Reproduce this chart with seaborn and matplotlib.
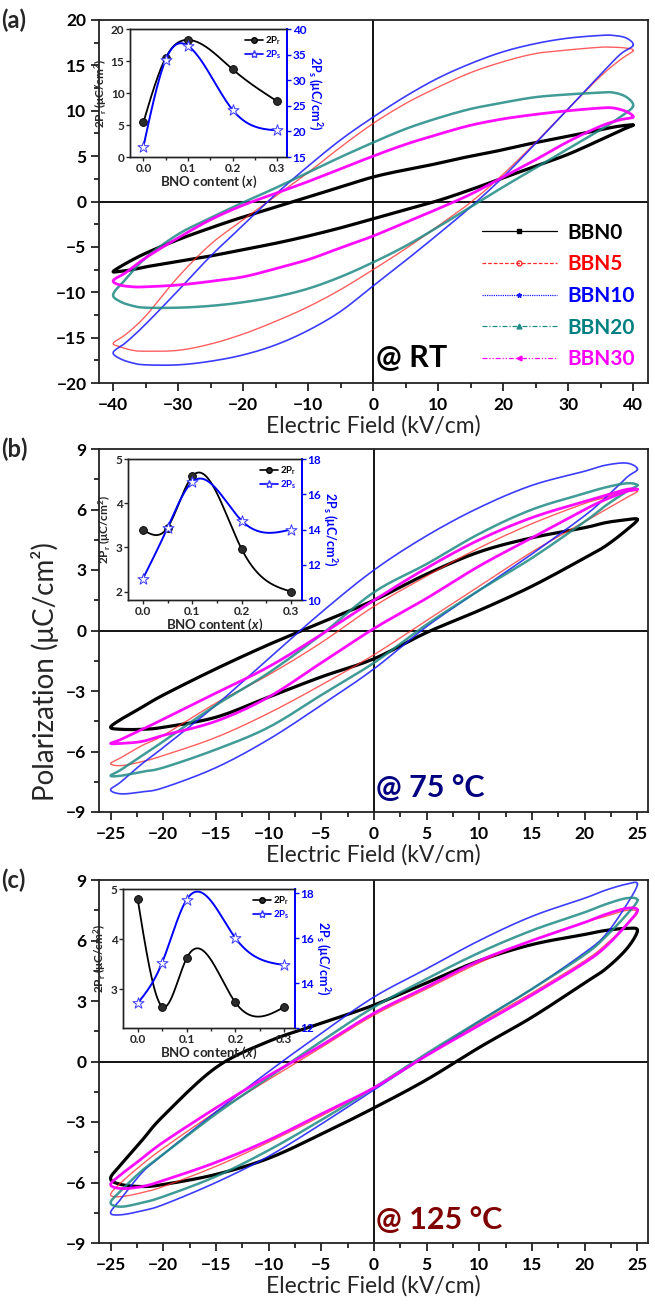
import numpy as np
import matplotlib
matplotlib.use("Agg")
import matplotlib.pyplot as plt
import seaborn as sns
from matplotlib.ticker import MultipleLocator, FormatStrFormatter
from matplotlib.lines import Line2D

sns.set_theme(style="ticks")
plt.rcParams['font.family'] = ['Lato', 'DejaVu Sans']
plt.rcParams['mathtext.fontset'] = 'custom'
plt.rcParams['mathtext.rm'] = 'Lato:bold'
plt.rcParams['mathtext.bf'] = 'Lato:bold'
plt.rcParams['mathtext.it'] = 'Lato:italic:bold'

# ---------------- data ----------------
samples = ["BBN0", "BBN5", "BBN10", "BBN20", "BBN30"]
colors = ["#000000", "#ff2a2a", "#1a1aff", "#1f8a84", "#ff00ff"]
text_colors = ["#000000", "#ff0000", "#0000ff", "#008080", "#ff00ff"]

# (a) room temperature, +/-40 kV/cm
E_up_a = [40, 39, 37, 35, 30, 25, 20, 15, 10, 5, 0, -5, -10, -15, -20, -25, -30, -35, -38, -40]
E_dn_a = [-40, -39, -37, -35, -30, -25, -20, -15, -10, -5, 0, 5, 10, 15, 20, 25, 30, 35, 38, 40]
P_up_a = {
    "BBN0":  [8.4, 8.4, 8.2, 7.9, 7.2, 6.5, 5.7, 5.0, 4.2, 3.5, 2.7, 1.6, 0.5, -0.6, -1.7, -2.9, -4.2, -5.7, -6.8, -7.7],
    "BBN5":  [16.6, 16.9, 17.0, 17.0, 16.7, 16.3, 15.4, 14.2, 12.6, 10.8, 8.6, 6.0, 3.2, 0.6, -2.0, -4.7, -8.3, -12.6, -14.6, -15.6],
    "BBN10": [17.2, 18.0, 18.3, 18.3, 18.0, 17.4, 16.5, 15.2, 13.6, 11.6, 9.3, 6.8, 3.9, 0.8, -2.6, -6.0, -9.8, -13.5, -15.5, -16.6],
    "BBN20": [10.5, 11.5, 12.0, 12.0, 11.8, 11.5, 10.9, 10.2, 9.2, 8.0, 6.5, 4.9, 3.2, 1.5, -0.1, -1.8, -3.6, -6.2, -8.5, -10.2],
    "BBN30": [9.3, 9.9, 10.3, 10.3, 10.0, 9.6, 9.1, 8.4, 7.4, 6.3, 5.0, 3.6, 2.2, 0.9, -0.4, -2.0, -4.0, -6.2, -7.8, -8.7],
}
P_dn_a = {
    "BBN0":  [-7.7, -7.7, -7.5, -7.2, -6.6, -6.0, -5.3, -4.6, -3.8, -2.9, -1.9, -0.9, 0.1, 1.3, 2.6, 3.9, 5.2, 6.8, 7.8, 8.4],
    "BBN5":  [-15.6, -16.0, -16.4, -16.5, -16.4, -15.7, -14.6, -13.2, -11.6, -9.7, -7.5, -5.2, -2.7, -0.1, 3.0, 6.5, 10.2, 13.8, 15.6, 16.6],
    "BBN10": [-16.6, -17.3, -17.8, -18.0, -18.0, -17.6, -16.9, -15.8, -14.2, -12.1, -9.3, -6.5, -3.6, -0.6, 2.7, 6.4, 10.2, 14.0, 16.2, 17.2],
    "BBN20": [-10.2, -11.0, -11.5, -11.7, -11.7, -11.5, -11.1, -10.5, -9.6, -8.3, -6.7, -4.9, -2.8, -0.6, 1.6, 3.7, 5.8, 7.9, 9.3, 10.5],
    "BBN30": [-8.7, -9.2, -9.4, -9.4, -9.2, -8.8, -8.3, -7.4, -6.4, -5.1, -3.8, -2.3, -0.8, 0.8, 2.7, 4.6, 6.6, 8.3, 9.0, 9.3],
}

# (b) 75 C and (c) 125 C, +/-25 kV/cm
E_up_bc = [25, 24, 22, 20, 15, 10, 5, 0, -5, -10, -15, -20, -22, -24, -25]
E_dn_bc = [-25, -24, -22, -20, -15, -10, -5, 0, 5, 10, 15, 20, 22, 24, 25]
P_up_b = {
    "BBN0":  [5.5, 5.5, 5.35, 5.1, 4.6, 3.9, 2.8, 1.5, 0.4, -0.7, -1.9, -3.2, -3.8, -4.4, -4.8],
    "BBN5":  [6.9, 6.9, 6.6, 6.3, 5.3, 4.1, 2.7, 1.2, -0.6, -2.2, -3.6, -5.2, -5.7, -6.3, -6.6],
    "BBN10": [8.0, 8.3, 8.2, 7.9, 7.2, 6.1, 4.7, 3.0, 0.9, -1.4, -3.7, -5.8, -6.6, -7.5, -7.9],
    "BBN20": [7.2, 7.3, 7.1, 6.8, 6.0, 4.8, 3.3, 1.9, -0.2, -2.1, -3.7, -5.5, -6.2, -6.9, -7.2],
    "BBN30": [7.0, 7.0, 6.7, 6.4, 5.6, 4.5, 3.1, 1.5, -0.2, -1.8, -3.1, -4.4, -4.9, -5.4, -5.6],
}
P_dn_b = {
    "BBN0":  [-4.8, -4.9, -4.9, -4.8, -4.3, -3.3, -2.3, -1.4, -0.1, 1.0, 2.2, 3.6, 4.2, 5.0, 5.5],
    "BBN5":  [-6.6, -6.7, -6.5, -6.2, -5.3, -4.1, -2.7, -1.2, 0.5, 2.2, 3.9, 5.4, 6.0, 6.6, 6.9],
    "BBN10": [-7.9, -8.1, -8.0, -7.8, -6.8, -5.4, -3.7, -1.9, 0.2, 2.0, 3.8, 5.7, 6.6, 7.6, 8.0],
    "BBN20": [-7.2, -7.2, -7.0, -6.8, -5.9, -4.8, -3.2, -1.6, 0.3, 2.0, 3.6, 5.4, 6.2, 6.9, 7.2],
    "BBN30": [-5.6, -5.6, -5.5, -5.2, -4.5, -3.3, -1.6, 0.1, 1.6, 3.2, 4.6, 6.0, 6.5, 6.9, 7.0],
}
P_up_c = {
    "BBN0":  [6.5, 6.6, 6.5, 6.3, 5.8, 5.0, 3.9, 2.8, 1.9, 1.0, -0.3, -2.7, -3.9, -5.1, -5.8],
    "BBN5":  [7.4, 7.5, 7.2, 6.9, 6.0, 4.9, 3.6, 2.3, 0.7, -0.9, -2.5, -4.3, -5.1, -6.0, -6.6],
    "BBN10": [8.8, 8.8, 8.5, 8.1, 7.2, 6.0, 4.6, 3.2, 1.4, -0.5, -2.5, -4.6, -5.5, -6.8, -7.5],
    "BBN20": [8.0, 8.1, 7.8, 7.4, 6.5, 5.4, 4.1, 2.7, 1.0, -0.8, -2.6, -4.6, -5.4, -6.4, -7.0],
    "BBN30": [7.5, 7.6, 7.3, 6.9, 6.0, 5.0, 3.7, 2.4, 0.8, -0.7, -2.3, -4.0, -4.8, -5.6, -6.1],
}
P_dn_c = {
    "BBN0":  [-5.8, -6.1, -6.2, -6.1, -5.6, -4.8, -3.6, -2.3, -0.9, 0.7, 2.2, 3.9, 4.6, 5.6, 6.5],
    "BBN5":  [-6.6, -6.7, -6.5, -6.2, -5.2, -4.0, -2.7, -1.3, 0.3, 1.9, 3.4, 5.0, 5.8, 6.8, 7.4],
    "BBN10": [-7.5, -7.6, -7.4, -7.1, -6.0, -4.7, -3.1, -1.4, 0.3, 2.0, 3.6, 5.4, 6.3, 7.8, 8.8],
    "BBN20": [-7.0, -7.2, -7.0, -6.7, -5.7, -4.4, -2.9, -1.3, 0.4, 2.0, 3.6, 5.3, 6.2, 7.3, 8.0],
    "BBN30": [-6.1, -6.3, -6.2, -5.9, -5.0, -3.9, -2.6, -1.3, 0.3, 1.8, 3.3, 4.9, 5.7, 6.8, 7.5],
}

# insets: remanent (2Pr) and saturation (2Ps) polarization vs BNO content
x_bno = [0.0, 0.05, 0.1, 0.2, 0.3]
Pr2_a = [5.4, 15.5, 18.3, 13.7, 8.7]
Ps2_a = [17.0, 34.0, 36.7, 24.2, 20.2]
Pr2_b = [3.40, 3.45, 4.61, 2.96, 2.00]
Ps2_b = [11.2, 14.1, 16.7, 14.5, 14.0]
Pr2_c = [4.80, 2.65, 3.61, 2.73, 2.64]
Ps2_c = [13.1, 14.9, 17.7, 16.0, 14.8]


# ---------------- helpers ----------------
def closed_curve(x, y, n=12):
    """Catmull-Rom rendering of a closed polyline through the given points."""
    P = np.column_stack([x, y]).astype(float)
    N = len(P)
    t = np.linspace(0, 1, n, endpoint=False)[:, None]
    segs = []
    for i in range(N):
        p0, p1, p2, p3 = P[i - 1], P[i], P[(i + 1) % N], P[(i + 2) % N]
        segs.append(0.5 * (2 * p1 + (-p0 + p2) * t
                           + (2 * p0 - 5 * p1 + 4 * p2 - p3) * t ** 2
                           + (-p0 + 3 * p1 - 3 * p2 + p3) * t ** 3))
    out = np.vstack(segs + [P[:1]])
    return out[:, 0], out[:, 1]


def spline_line(x, y, n=200):
    """Natural cubic spline rendering through the given points."""
    x = np.asarray(x, float)
    y = np.asarray(y, float)
    k = len(x)
    h = np.diff(x)
    A = np.zeros((k, k))
    b = np.zeros(k)
    A[0, 0] = A[-1, -1] = 1
    for i in range(1, k - 1):
        A[i, i - 1] = h[i - 1]
        A[i, i] = 2 * (h[i - 1] + h[i])
        A[i, i + 1] = h[i]
        b[i] = 3 * ((y[i + 1] - y[i]) / h[i] - (y[i] - y[i - 1]) / h[i - 1])
    c = np.linalg.solve(A, b)
    bb = (y[1:] - y[:-1]) / h - h * (2 * c[:-1] + c[1:]) / 3
    d = (c[1:] - c[:-1]) / (3 * h)
    xs = np.linspace(x[0], x[-1], n)
    idx = np.clip(np.searchsorted(x, xs) - 1, 0, k - 2)
    dx = xs - x[idx]
    ys = y[idx] + bb[idx] * dx + c[idx] * dx ** 2 + d[idx] * dx ** 3
    return xs, ys


line_w = [2.3, 1.0, 1.2, 1.8, 2.0]
line_a = [1.0, 0.75, 0.85, 0.85, 0.95]


def draw_loops(ax, E_up, E_dn, P_up, P_dn):
    for s, col, w, a in zip(samples, colors, line_w, line_a):
        lx = list(E_up) + list(E_dn[1:-1])
        ly = list(P_up[s]) + list(P_dn[s][1:-1])
        cx, cy = closed_curve(lx, ly)
        sns.lineplot(x=cx, y=cy, sort=False, estimator=None, ax=ax,
                     color=col, lw=w, alpha=a, legend=False)


def style_main(ax, xlim, ylim, xmaj, ymaj):
    ax.set_xlim(*xlim)
    ax.set_ylim(*ylim)
    ax.axhline(0, color="black", lw=1.3, zorder=1)
    ax.axvline(0, color="black", lw=1.3, zorder=1)
    ax.xaxis.set_major_locator(MultipleLocator(xmaj))
    ax.xaxis.set_minor_locator(MultipleLocator(xmaj / 2))
    ax.yaxis.set_major_locator(MultipleLocator(ymaj))
    ax.yaxis.set_minor_locator(MultipleLocator(ymaj / 2))
    ax.tick_params(which="both", direction="out", top=False, right=False,
                   width=1.3, colors="#222222")
    ax.tick_params(which="major", length=6, labelsize=12.5)
    ax.tick_params(axis="x", which="major", pad=4)
    ax.tick_params(axis="y", which="major", pad=3)
    ax.tick_params(which="minor", length=3.5)
    for lab in ax.get_xticklabels() + ax.get_yticklabels():
        lab.set_fontweight("bold")
        lab.set_color("black")
    for sp in ax.spines.values():
        sp.set_linewidth(1.3)
        sp.set_color("#222222")
    ax.set_xlabel("Electric Field (kV/cm)", fontsize=16.5, labelpad=1.5)
    ax.set_ylabel("")


def draw_inset(fig, rect, pr, ps, lylim, rylim, lticks, rticks):
    ax = fig.add_axes(rect)
    xs, ys = spline_line(x_bno, pr)
    sns.lineplot(x=xs, y=ys, ax=ax, color="black", lw=1.3, legend=False)
    sns.scatterplot(x=x_bno, y=pr, ax=ax, marker="o", s=32, color="#2b2b2b",
                    edgecolor="black", linewidth=0.6, zorder=5, legend=False)
    ax.set_xlim(-0.03, 0.322)
    ax.set_ylim(*lylim)
    ax.set_yticks(lticks)
    ax.xaxis.set_major_locator(MultipleLocator(0.1))
    ax.xaxis.set_minor_locator(MultipleLocator(0.05))
    ax.tick_params(which="both", direction="out", top=False, right=False,
                   width=1.0, labelsize=8.5, pad=1)
    ax.tick_params(which="major", length=3)
    ax.tick_params(which="minor", length=2)
    ax.xaxis.set_major_formatter(FormatStrFormatter("%.1f"))
    for lab in ax.get_xticklabels() + ax.get_yticklabels():
        lab.set_fontweight("bold")
    ax.set_xlabel(r"BNO content ($x$)", fontsize=9.5, fontweight="bold", labelpad=0)
    ax.set_ylabel(r"2P$_\mathbf{r}$ (μC/cm$^2$)", fontsize=8.5, fontweight="bold", labelpad=1.5)

    ax2 = ax.twinx()
    xs, ys = spline_line(x_bno, ps)
    sns.lineplot(x=xs, y=ys, ax=ax2, color="#0000ff", lw=1.4, legend=False)
    sns.scatterplot(x=x_bno, y=ps, ax=ax2, marker="*", s=70, facecolor="white",
                    edgecolor="#3a3aff", linewidth=0.7, zorder=5, legend=False)
    ax2.set_ylim(*rylim)
    ax2.set_yticks(rticks)
    ax2.tick_params(axis="y", which="both", direction="out", colors="#0000ff",
                    width=1.0, labelsize=8.5, pad=1, length=3)
    for lab in ax2.get_yticklabels():
        lab.set_fontweight("bold")
    ax2.spines["right"].set_color("#0000ff")
    ax2.spines["right"].set_linewidth(1.4)
    ax2.set_ylabel(r"2P$_\mathbf{s}$ (μC/cm$^2$)", fontsize=9, fontweight="bold",
                   color="#0000ff", rotation=270, labelpad=12)
    for a in (ax, ax2):
        for k, sp in a.spines.items():
            if k != "right":
                sp.set_linewidth(1.0)
                sp.set_color("#222222")

    handles = [Line2D([], [], color="black", lw=1.2, marker="o", ms=4,
                      markerfacecolor="#2b2b2b"),
               Line2D([], [], color="#0000ff", lw=1.2, marker="*", ms=6,
                      markerfacecolor="white", markeredgecolor="#3a3aff")]
    leg = ax2.legend(handles, [r"2P$_\mathbf{r}$", r"2P$_\mathbf{s}$"], loc="upper right",
                     frameon=False, fontsize=7, handlelength=1.8, handletextpad=0.2,
                     borderaxespad=0.2, labelspacing=0.1)
    for t, c in zip(leg.get_texts(), ["black", "#0000ff"]):
        t.set_color(c)
        t.set_fontweight("bold")


# ---------------- figure ----------------
fig = plt.figure(figsize=(6.55, 13.06), dpi=100)
W, H = 655.0, 1306.0


def rect(l, t, r, b):
    return [l / W, 1 - b / H, (r - l) / W, (b - t) / H]


ax_a = fig.add_axes(rect(99, 20, 648, 383))
ax_b = fig.add_axes(rect(99, 449, 648, 812))
ax_c = fig.add_axes(rect(99, 880, 648, 1243))

draw_loops(ax_a, E_up_a, E_dn_a, P_up_a, P_dn_a)
style_main(ax_a, (-42.2, 42.3), (-20, 20), 10, 5)
draw_loops(ax_b, E_up_bc, E_dn_bc, P_up_b, P_dn_b)
style_main(ax_b, (-26.1, 26.0), (-9, 9), 5, 3)
draw_loops(ax_c, E_up_bc, E_dn_bc, P_up_c, P_dn_c)
style_main(ax_c, (-26.1, 26.0), (-9, 9), 5, 3)

# legend for the loops
leg_styles = [("-", "s", "black"), ((0, (3, 1.5)), "o", "none"),
              ((0, (1, 0.8)), "*", None), ((0, (4, 1.5, 1, 1.5)), "^", None),
              ((0, (4, 1.5, 1, 1.5, 1, 1.5)), "<", None)]
handles = []
for (ls, mk, fc), col in zip(leg_styles, colors):
    handles.append(Line2D([], [], color=col, lw=0.9, ls=ls, marker=mk, ms=3.5,
                          markerfacecolor=fc if fc else col, markeredgecolor=col))
leg = ax_a.legend(handles, samples, loc="lower right", bbox_to_anchor=(1.0, 0.0),
                  frameon=False, fontsize=15, handlelength=3.6, handletextpad=0.5,
                  labelspacing=0.56, borderaxespad=0.25)
for t, c in zip(leg.get_texts(), text_colors):
    t.set_color(c)
    t.set_fontweight("bold")

# temperature annotations
ax_a.text(0.505, 0.068, "@ RT", transform=ax_a.transAxes, fontsize=22,
          fontweight="bold", color="black", va="center", ha="left")
ax_b.text(0.505, 0.066, "@ 75 °C", transform=ax_b.transAxes, fontsize=22,
          fontweight="bold", color="#000080", va="center", ha="left")
ax_c.text(0.505, 0.063, "@ 125 °C", transform=ax_c.transAxes, fontsize=22,
          fontweight="bold", color="#800000", va="center", ha="left")

# panel letters and shared y label
for lab, ypix in [("(a)", 20), ("(b)", 449), ("(c)", 880)]:
    fig.text(1 / W, 1 - ypix / H, lab, fontsize=17, fontweight="bold", va="center", ha="left")
fig.text(45 / W, 1 - 672 / H, "Polarization (μC/cm²)", fontsize=20, rotation=90,
         va="center", ha="center")

# insets
draw_inset(fig, rect(130, 29, 287, 157), Pr2_a, Ps2_a, (0, 20), (15, 40),
           [0, 5, 10, 15, 20], [15, 20, 25, 30, 35, 40])
draw_inset(fig, rect(128, 459, 302, 600), Pr2_b, Ps2_b, (1.81, 5.0), (10, 18),
           [2, 3, 4, 5], [10, 12, 14, 16, 18])
draw_inset(fig, rect(123, 889, 295, 1028), Pr2_c, Ps2_c, (2.22, 5.0), (12, 18.18),
           [3, 4, 5], [12, 14, 16, 18])

fig.savefig("out.png", dpi=100)
